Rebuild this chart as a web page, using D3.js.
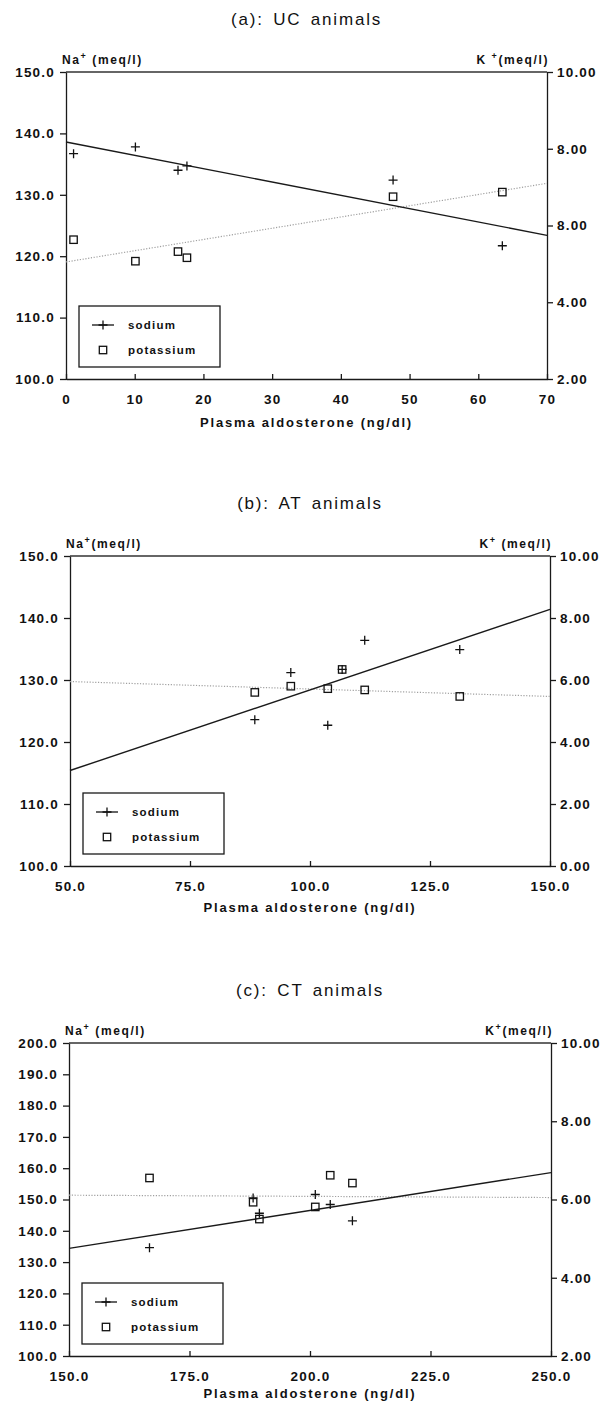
<!DOCTYPE html>
<html>
<head>
<meta charset="utf-8">
<script src="https://cdn.jsdelivr.net/npm/d3@7"></script>
<style>
  body { margin: 0; background: #fff; }
  svg text { font-family: "Liberation Sans", Arial, sans-serif; fill: #111; }
  .tick text { font-weight: bold; font-size: 13.5px; letter-spacing: 1.2px; }
  .tick line, .domain { stroke: #1a1a1a; stroke-width: 1.3; }
</style>
</head>
<body>
<svg id="chart" width="607" height="1402"></svg>
<script>
// ---- (a) UC animals ----
const aAldo      = [1.1, 10.1, 16.3, 17.6, 47.6, 63.5];
const aSodium    = [136.7, 137.8, 134.0, 134.7, 132.4, 121.7];
const aPotassium = [5.63, 5.07, 5.32, 5.16, 6.75, 6.87];
const aSodiumFit    = [138.6, 123.4];   // at x = 0 and x = 70
const aPotassiumFit = [5.05, 7.10];
const aXTicks  = [0, 10, 20, 30, 40, 50, 60, 70];
const aNaTicks = [100, 110, 120, 130, 140, 150];
const aKTicks  = [2, 4, 6, 8, 10];
const aKLabels = ["2.00", "4.00", "8.00", "8.00", "10.00"];  // as printed

// ---- (b) AT animals ----
const bAldo      = [88.5, 96.0, 103.7, 106.7, 111.4, 131.2];
const bSodium    = [123.6, 131.2, 122.7, 131.7, 136.4, 134.9];
const bPotassium = [5.60, 5.80, 5.72, 6.34, 5.68, 5.47];
const bSodiumFit    = [115.4, 141.4];   // at x = 50 and x = 150
const bPotassiumFit = [5.95, 5.47];
const bXTicks  = [50, 75, 100, 125, 150];
const bNaTicks = [100, 110, 120, 130, 140, 150];
const bKTicks  = [0, 2, 4, 6, 8, 10];
const bKLabels = ["0.00", "2.00", "4.00", "6.00", "8.00", "10.00"];

// ---- (c) CT animals ----
const cAldo      = [166.7, 188.2, 189.5, 201.1, 204.2, 208.8];
const cSodium    = [134.6, 150.5, 145.6, 151.6, 148.4, 143.2];
const cPotassium = [6.55, 5.93, 5.50, 5.81, 6.62, 6.42];
const cSodiumFit    = [134.4, 158.6];   // at x = 150 and x = 250
const cPotassiumFit = [6.11, 6.05];
const cXTicks  = [150, 175, 200, 225, 250];
const cNaTicks = [100, 110, 120, 130, 140, 150, 160, 170, 180, 190, 200];
const cKTicks  = [2, 4, 6, 8, 10];
const cKLabels = ["2.00", "4.00", "6.00", "8.00", "10.00"];

const legendLabels = ["sodium", "potassium"];
const xTitle = "Plasma aldosterone (ng/dl)";

const panels = [
  { title: "(a): UC animals", na: ["Na", "+", " (meq/l)"], k: ["K ", "+", "(meq/l)"],
    aldo: aAldo, sodium: aSodium, potassium: aPotassium,
    sodiumFit: aSodiumFit, potassiumFit: aPotassiumFit,
    xDomain: [0, 70], xTicks: aXTicks, xFmt: d3.format("d"),
    naDomain: [100, 150], naTicks: aNaTicks, kDomain: [2, 10], kTicks: aKTicks, kLabels: aKLabels,
    left: 66, right: 547, top: 72, bottom: 379, xTitleDy: 48 },
  { title: "(b): AT animals", na: ["Na", "+", "(meq/l)"], k: ["K", "+", " (meq/l)"],
    aldo: bAldo, sodium: bSodium, potassium: bPotassium,
    sodiumFit: bSodiumFit, potassiumFit: bPotassiumFit,
    xDomain: [50, 150], xTicks: bXTicks, xFmt: d3.format(".1f"),
    naDomain: [100, 150], naTicks: bNaTicks, kDomain: [0, 10], kTicks: bKTicks, kLabels: bKLabels,
    left: 70, right: 550, top: 556, bottom: 866, xTitleDy: 46 },
  { title: "(c): CT animals", na: ["Na", "+", " (meq/l)"], k: ["K", "+", "(meq/l)"],
    aldo: cAldo, sodium: cSodium, potassium: cPotassium,
    sodiumFit: cSodiumFit, potassiumFit: cPotassiumFit,
    xDomain: [150, 250], xTicks: cXTicks, xFmt: d3.format(".1f"),
    naDomain: [100, 200], naTicks: cNaTicks, kDomain: [2, 10], kTicks: cKTicks, kLabels: cKLabels,
    left: 69, right: 551, top: 1043, bottom: 1356, xTitleDy: 42 }
];

const svg = d3.select("#chart");
const plusPath = "M-4.5,0H4.5M0,-4.5V4.5";

function unitLabel(g, x, y, parts, anchor) {
  const t = g.append("text")
    .attr("x", x).attr("y", y)
    .attr("text-anchor", anchor)
    .style("font-size", "12px").style("font-weight", "bold").style("letter-spacing", "1.6px");
  t.append("tspan").text(parts[0]);
  t.append("tspan").attr("dy", -5).style("font-size", "9px").text(parts[1]);
  t.append("tspan").attr("dy", 5).text(parts[2]);
}

function drawPanel(p) {
  const g = svg.append("g");
  const x = d3.scaleLinear().domain(p.xDomain).range([p.left, p.right]);
  const yNa = d3.scaleLinear().domain(p.naDomain).range([p.bottom, p.top]);
  const yK = d3.scaleLinear().domain(p.kDomain).range([p.bottom, p.top]);

  // title
  g.append("text")
    .attr("x", (p.left + p.right) / 2).attr("y", p.top - 47)
    .attr("text-anchor", "middle")
    .style("font-size", "17px").style("letter-spacing", "1.8px").style("word-spacing", "3px")
    .text(p.title);

  unitLabel(g, p.left - 4, p.top - 8, p.na, "start");
  unitLabel(g, p.right + 2, p.top - 8, p.k, "end");

  // frame top
  g.append("line")
    .attr("x1", p.left).attr("x2", p.right)
    .attr("y1", p.top).attr("y2", p.top)
    .attr("stroke", "#333").attr("stroke-width", 1.3);

  // axes
  g.append("g")
    .attr("transform", `translate(${p.left},0)`)
    .call(d3.axisLeft(yNa).tickValues(p.naTicks).tickFormat(d3.format(".1f"))
      .tickSize(6).tickSizeOuter(0).tickPadding(5));

  g.append("g")
    .attr("transform", `translate(${p.right},0)`)
    .call(d3.axisRight(yK).tickValues(p.kTicks)
      .tickFormat(d => p.kLabels[p.kTicks.indexOf(d)])
      .tickSize(6).tickSizeOuter(0).tickPadding(4));

  const xa = g.append("g")
    .attr("transform", `translate(0,${p.bottom})`)
    .call(d3.axisBottom(x).tickValues(p.xTicks).tickFormat(p.xFmt)
      .tickSize(-5).tickSizeOuter(0).tickPadding(15));
  xa.selectAll(".tick line").attr("y2", -5).attr("y1", 1);

  g.append("text")
    .attr("x", (p.left + p.right) / 2).attr("y", p.bottom + p.xTitleDy)
    .attr("text-anchor", "middle")
    .style("font-size", "13px").style("font-weight", "bold").style("letter-spacing", "1.8px")
    .text(xTitle);

  // fitted lines
  const kLine = d3.line().x(d => x(d[0])).y(d => yK(d[1]));
  const naLine = d3.line().x(d => x(d[0])).y(d => yNa(d[1]));
  g.append("path")
    .attr("d", kLine(p.xDomain.map((v, i) => [v, p.potassiumFit[i]])))
    .attr("fill", "none").attr("stroke", "#a0a0a0").attr("stroke-width", 1.2)
    .attr("stroke-dasharray", "1.2,1.6");
  g.append("path")
    .attr("d", naLine(p.xDomain.map((v, i) => [v, p.sodiumFit[i]])))
    .attr("fill", "none").attr("stroke", "#1a1a1a").attr("stroke-width", 1.4);

  // points
  g.selectAll(".na").data(p.aldo).join("path")
    .attr("class", "na")
    .attr("transform", (d, i) => `translate(${x(d)},${yNa(p.sodium[i])})`)
    .attr("d", plusPath).attr("stroke", "#111").attr("stroke-width", 1.3);
  g.selectAll(".k").data(p.aldo).join("rect")
    .attr("class", "k")
    .attr("x", d => x(d) - 3.7).attr("y", (d, i) => yK(p.potassium[i]) - 3.7)
    .attr("width", 7.4).attr("height", 7.4)
    .attr("fill", "none").attr("stroke", "#111").attr("stroke-width", 1.3);

  // legend
  const lx = p.left + 13, ly = p.bottom - 73;
  const lg = g.append("g").attr("transform", `translate(${lx},${ly})`);
  lg.append("rect").attr("width", 141).attr("height", 61)
    .attr("fill", "#fff").attr("stroke", "#1a1a1a").attr("stroke-width", 1.3);
  lg.append("path").attr("d", "M13,19H35").attr("stroke", "#111").attr("stroke-width", 1.3);
  lg.append("path").attr("transform", "translate(24,19)").attr("d", plusPath)
    .attr("stroke", "#111").attr("stroke-width", 1.3);
  lg.append("rect").attr("x", 20.3).attr("y", 40.3).attr("width", 7.4).attr("height", 7.4)
    .attr("fill", "none").attr("stroke", "#111").attr("stroke-width", 1.3);
  lg.selectAll(".lt").data(legendLabels).join("text")
    .attr("class", "lt")
    .attr("x", 49).attr("y", (d, i) => 23 + i * 25)
    .style("font-size", "11.5px").style("font-weight", "bold").style("letter-spacing", "1.2px")
    .text(d => d);
}

panels.forEach(drawPanel);
</script>
</body>
</html>
